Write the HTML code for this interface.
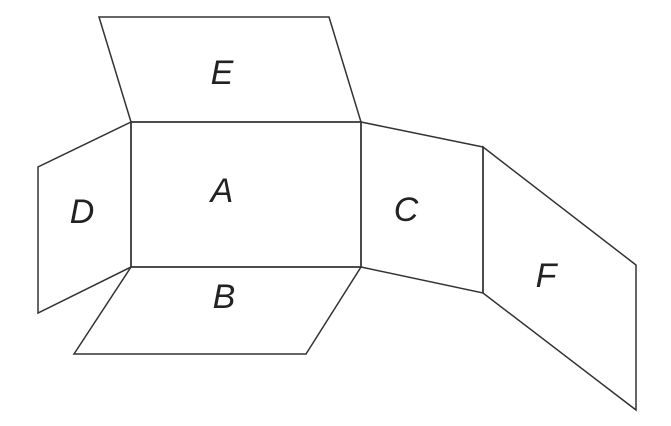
<!DOCTYPE html>
<html><head><meta charset="utf-8"><style>
html,body{margin:0;padding:0;background:#fff;}
svg{display:block;}
text{font-family:"Liberation Sans",sans-serif;font-style:italic;font-size:34px;fill:#222;text-anchor:middle;}
</style></head><body>
<svg width="671" height="426" viewBox="0 0 671 426" xmlns="http://www.w3.org/2000/svg">
<g fill="none" stroke="#333" stroke-width="1.5" stroke-linejoin="miter">
<polygon points="99,17 329,17 361,122 131,122"/>
<polygon points="131,122 361,122 361,267 131,267"/>
<polygon points="131,122 38,167 38,313 131,267"/>
<polygon points="131,267 361,267 306,354 74,354"/>
<polygon points="361,122 483,147 483,293 361,267"/>
<polygon points="483,147 636,265 636,410 483,293"/>
</g>
<text x="222" y="84">E</text>
<text x="222" y="202">A</text>
<text x="82" y="223">D</text>
<text x="406" y="221">C</text>
<text x="224" y="308">B</text>
<text x="546" y="287">F</text>
</svg>
</body></html>
